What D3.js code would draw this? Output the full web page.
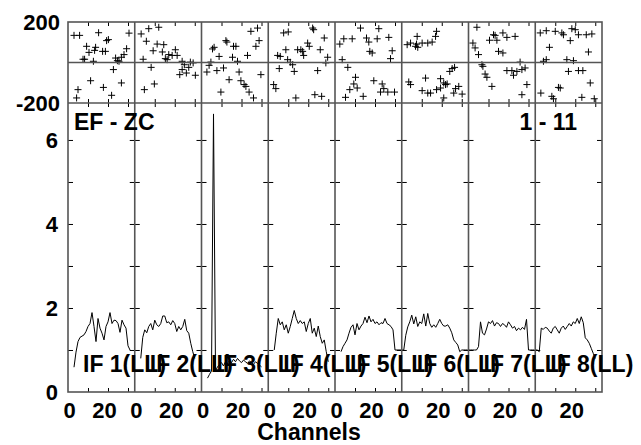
<!DOCTYPE html>
<html>
<head>
<meta charset="utf-8">
<script src="https://cdn.jsdelivr.net/npm/d3@7"></script>
<style>
body { margin: 0; background: #fff; }
text { font-family: "Liberation Sans", Arial, Helvetica, sans-serif; font-weight: bold; fill: #000; }
</style>
</head>
<body>
<svg id="chart" width="641" height="445"></svg>
<script>
// IF labels and per-IF start channel of the amplitude spectra
const ifLabels = ["IF 1(LL)", "IF 2(LL)", "IF 3(LL)", "IF 4(LL)", "IF 5(LL)", "IF 6(LL)", "IF 7(LL)", "IF 8(LL)"];
const ampStart = [3, 3, 3, 3, 3, 0, 0, 0];

// amplitude per channel (one value per channel, starting at ampStart)
const ampIF1 = [0.59,0.95,1.2,1.3,1.33,1.36,1.44,1.56,1.63,1.89,1.56,1.2,1.75,1.52,1.4,1.24,1.56,1.67,1.89,1.63,1.71,1.7,1.63,1.42,1.71,1.6,1.52,1.1,1.0];
const ampIF2 = [0.8,1.3,1.48,1.41,1.56,1.63,1.48,1.71,1.6,1.56,1.63,1.81,1.81,1.65,1.67,1.6,1.7,1.63,1.44,1.56,1.48,1.56,1.73,1.46,1.4,1.16,0.96,0.8];
const ampIF3 = [0.33,0.42,0.5,6.62,0.5,0.6,0.65,0.7,0.62,0.72,0.68,0.75,0.7,0.78,0.72,0.8,0.74,0.7,0.76,0.72,0.68,0.74,0.7,0.66,0.72,0.68,0.64,0.6];
const ampIF4 = [1.0,1.4,1.75,1.6,1.67,1.48,1.6,1.4,1.56,1.75,1.94,1.75,1.63,1.7,1.63,1.67,1.44,1.63,1.75,1.4,1.52,1.32,1.57,1.32,1.16,1.24,0.96,0.72];
const ampIF5 = [0.96,1.08,1.16,1.24,1.4,1.54,1.6,1.36,1.63,1.48,1.57,1.63,1.78,1.65,1.81,1.67,1.73,1.63,1.67,1.6,1.65,1.63,1.75,1.63,1.6,1.56,1.48,1.0,1.0,1.0,1.0];
const ampIF6 = [1.0,1.0,1.35,1.55,1.67,1.83,1.62,1.79,1.56,1.67,1.63,1.86,1.57,1.87,1.63,1.54,1.6,1.54,1.63,1.73,1.63,1.57,1.57,1.6,1.52,1.41,1.24,1.18,1.12,0.96,1.0,1.0,1.0,1.0];
const ampIF7 = [1.0,1.0,1.0,1.0,1.0,1.08,1.67,1.4,1.36,1.5,1.67,1.63,1.7,1.57,1.65,1.63,1.56,1.63,1.6,1.54,1.67,1.6,1.52,1.56,1.46,1.52,1.48,1.54,1.49,1.73,1.0,1.0,1.0,1.0];
const ampIF8 = [1.0,1.0,0.96,1.52,1.49,1.54,1.52,1.45,1.4,1.52,1.56,1.48,1.4,1.52,1.57,1.49,1.56,1.63,1.57,1.67,1.63,1.75,1.63,1.79,1.65,1.29,1.24,1.16,1.04,0.92,0.8];

// phase points [channel, degrees]
const phaseIF1 = [[3,134],[5.8,134],[15.3,147],[30.5,145],[9.3,80],[13.8,75],[19.3,108],[20.2,113],[10.5,50],[13.3,60],[17.3,55],[18.7,55],[7.5,16],[8.3,16],[12.7,6],[29.3,68],[28,39],[26.7,26],[23.8,22],[24.7,9],[25.5,6],[22.7,-35],[11.3,-90],[17.7,-123],[26.7,-101],[5,-134],[4.3,-175],[21.8,-162]];
const phaseIF2 = [[7,167],[12,174],[3.2,141],[5.8,105],[11.2,91],[14.5,88],[9.2,58],[13.8,52],[17,39],[18.7,35],[20.3,63],[21.2,35],[4.2,16],[15.3,19],[16.2,14],[23.7,6],[24.8,-11],[27.8,2],[29.2,-2],[23.7,-35],[22.5,-60],[25.8,-52],[27,-24],[30.3,-63],[8.2,-24],[9.8,-106],[4.8,-134]];
const phaseIF3 = [[24.7,154],[28,170],[28.8,108],[12.2,108],[12.7,101],[6.3,75],[5.5,67],[16,80],[17.2,80],[27.2,80],[8.8,30],[15.5,26],[18,6],[23,35],[4.7,2],[3.8,-14],[2.7,-47],[7.7,-40],[11,-27],[18.8,-47],[13.8,-85],[19.7,-90],[21.3,-109],[22.2,-118],[29.7,-60],[9.7,-146],[23.8,-146],[26,-175]];
const phaseIF4 = [[7.7,146],[10,151],[22.2,170],[22.7,162],[28,121],[8.8,63],[14.7,63],[16.3,63],[17.2,55],[19.7,96],[20.5,80],[17.7,35],[26,63],[4.7,35],[6,30],[9.7,14],[11,1],[12.2,-11],[29.7,26],[28.8,-2],[5.5,-30],[13,-44],[24.7,-40],[2.7,-109],[3.8,-129],[13.8,-175],[23.3,-159],[26.7,-167]];
const phaseIF5 = [[12.75,170],[21.9,167],[4.4,117],[8.6,117],[15.75,121],[16.9,101],[21.1,117],[26.9,124],[2.4,91],[17.4,55],[18.6,47],[28.6,58],[27.75,19],[3.6,14],[6.4,-24],[10.25,-73],[9.4,-106],[11.1,-126],[7.4,-134],[5.25,-172],[14.1,-167],[19.4,-90],[23.6,-106],[24.4,-129],[22.75,-146],[26.4,-146],[29.75,-146]];
const phaseIF6 = [[7.7,129],[17.4,154],[16.9,129],[4.4,96],[6.9,80],[8,75],[10.2,96],[13,96],[15.2,101],[2.7,88],[7.4,91],[3.5,-96],[4.4,-109],[11.9,-77],[19.4,-80],[21,-101],[21.9,-109],[24,-44],[25.2,-30],[26.4,-24],[22.7,-106],[26.9,-129],[28.5,-118],[10.2,-139],[13,-151],[14.4,-151],[17.4,-134],[19.4,-126],[26,-151],[21,-175],[30.2,-156]];
const phaseIF7 = [[4.2,174],[12.5,137],[13.3,134],[17.2,146],[19.2,124],[23.3,129],[10.5,110],[14.2,110],[2.2,96],[3.3,72],[5,39],[15,55],[17.2,47],[6.7,-11],[7.2,-19],[8.3,-57],[9.2,-73],[11.7,-118],[25.8,2],[19.2,-40],[21.7,-40],[22.5,-63],[24.2,-44],[26.7,-35],[28.3,-27],[29.2,-109],[26.7,-159]];
const phaseIF8 = [[2.5,146],[5.5,157],[10,154],[13.3,146],[14.1,137],[17.5,108],[18.3,167],[20,162],[21.6,137],[25.5,137],[28.3,141],[7.1,75],[26.6,52],[4.1,6],[5.5,14],[15.8,14],[19.1,9],[16.6,-44],[21.6,-40],[23.8,-40],[27.5,-101],[2.8,-151],[8.3,-167],[9.1,-179],[11.6,-123],[12.5,-126],[23.3,-172],[29.5,-179]];

const ampData = [ampIF1, ampIF2, ampIF3, ampIF4, ampIF5, ampIF6, ampIF7, ampIF8];
const phaseData = [phaseIF1, phaseIF2, phaseIF3, phaseIF4, phaseIF5, phaseIF6, phaseIF7, phaseIF8];

const margin = { top: 22, right: 39, bottom: 53, left: 68 };
const width = 641, height = 445;
const plotW = width - margin.left - margin.right;
const nIF = ifLabels.length;
const panelW = plotW / nIF;
const phaseH = 81;
const ampBottom = height - margin.bottom;
const frameColor = "#555";

const svg = d3.select("#chart");

const yPhase = d3.scaleLinear().domain([-200, 200]).range([margin.top + phaseH, margin.top]);
const yAmp = d3.scaleLinear().domain([0, 6.88]).range([ampBottom, margin.top + phaseH]);
const panelX = i => d3.scaleLinear().domain([0, 33.375])
    .range([margin.left + i * panelW, margin.left + (i + 1) * panelW]);

function clean(g) {
    g.select(".domain").remove();
    g.selectAll(".tick line").attr("stroke", "#000");
    return g;
}

const line = d3.line().x(d => d[0]).y(d => d[1]);

for (let i = 0; i < nIF; i++) {
    const x = panelX(i);
    const g = svg.append("g");

    // channel ticks
    g.append("g").attr("transform", `translate(0,${margin.top})`)
        .call(d3.axisTop(x).tickValues([10, 20, 30]).tickSizeInner(-4).tickFormat(""))
        .call(clean);
    g.append("g").attr("transform", `translate(0,${yPhase(-200)})`)
        .call(d3.axisTop(x).tickValues([10, 20, 30]).tickSizeInner(4).tickFormat(""))
        .call(clean);
    g.append("g").attr("transform", `translate(0,${yPhase(-200)})`)
        .call(d3.axisBottom(x).tickValues([10, 20, 30]).tickSizeInner(4).tickFormat(""))
        .call(clean);
    g.append("g").attr("transform", `translate(0,${ampBottom})`)
        .call(d3.axisBottom(x).tickValues([10, 20, 30]).tickSizeInner(-4).tickFormat(""))
        .call(clean);

    // channel labels
    g.append("g").attr("transform", `translate(0,${ampBottom})`)
        .call(d3.axisBottom(x).tickValues([0, 20]).tickSize(0).tickPadding(10).tickFormat(d => String(d)))
        .call(clean)
        .call(a => a.selectAll("text")
            .attr("font-size", 22)
            .attr("dx", d => d === 20 ? -4 : 1));

    // phase points
    g.selectAll("path.pt").data(phaseData[i]).join("path")
        .attr("class", "pt")
        .attr("transform", d => `translate(${x(d[0])},${yPhase(d[1])})`)
        .attr("d", "M-3.5,0H3.5M0,-3.5V3.5")
        .attr("stroke", "#000")
        .attr("stroke-width", 1)
        .attr("fill", "none");

    // amplitude spectrum
    const pts = ampData[i].map((v, k) => [x(ampStart[i] + k), yAmp(v)]);
    g.append("path")
        .attr("d", line(pts))
        .attr("fill", "none")
        .attr("stroke", "#000")
        .attr("stroke-width", 1);
}

// amplitude ticks on each panel boundary
for (let j = 0; j <= nIF; j++) {
    const bx = margin.left + j * panelW;
    if (j < nIF) {
        svg.append("g").attr("transform", `translate(${bx},0)`)
            .call(d3.axisRight(yAmp).tickValues([1, 2, 3, 4, 5, 6]).tickSize(5).tickFormat(""))
            .call(clean);
    }
    if (j > 0) {
        svg.append("g").attr("transform", `translate(${bx},0)`)
            .call(d3.axisLeft(yAmp).tickValues([1, 2, 3, 4, 5, 6]).tickSize(5).tickFormat(""))
            .call(clean);
    }
}

// frame, panel separators, phase zero line
const frame = svg.append("g").attr("fill", "none").attr("stroke", frameColor).attr("stroke-width", 1.6);
frame.append("rect")
    .attr("x", margin.left).attr("y", margin.top)
    .attr("width", plotW).attr("height", ampBottom - margin.top);
for (let j = 1; j < nIF; j++) {
    const bx = margin.left + j * panelW;
    frame.append("line").attr("x1", bx).attr("x2", bx).attr("y1", margin.top).attr("y2", ampBottom);
}
frame.append("line").attr("x1", margin.left).attr("x2", margin.left + plotW)
    .attr("y1", yPhase(-200)).attr("y2", yPhase(-200));
frame.append("line").attr("x1", margin.left).attr("x2", margin.left + plotW)
    .attr("y1", yPhase(0)).attr("y2", yPhase(0));

// y labels
svg.append("g").attr("transform", `translate(${margin.left},0)`)
    .call(d3.axisLeft(yAmp).tickValues([0, 2, 4, 6]).tickSize(0).tickPadding(10).tickFormat(d => String(d)))
    .call(clean)
    .call(a => a.selectAll("text").attr("font-size", 22));
svg.append("g").attr("transform", `translate(${margin.left},0)`)
    .call(d3.axisLeft(yPhase).tickValues([-200, 200]).tickSize(0).tickPadding(8).tickFormat(d => String(d)))
    .call(clean)
    .call(a => a.selectAll("text").attr("font-size", 22));

// IF labels
svg.selectAll("text.iflab").data(ifLabels).join("text")
    .attr("class", "iflab")
    .attr("x", (d, i) => margin.left + i * panelW + 15)
    .attr("y", 372)
    .attr("font-size", 23)
    .text(d => d);

svg.append("text").attr("x", 74).attr("y", 130).attr("font-size", 23).text("EF - ZC");
svg.append("text").attr("x", 577).attr("y", 130).attr("font-size", 23)
    .attr("text-anchor", "end").text("1 - 11");
svg.append("text").attr("x", 309).attr("y", 440).attr("font-size", 23)
    .attr("text-anchor", "middle").text("Channels");
</script>
</body>
</html>
